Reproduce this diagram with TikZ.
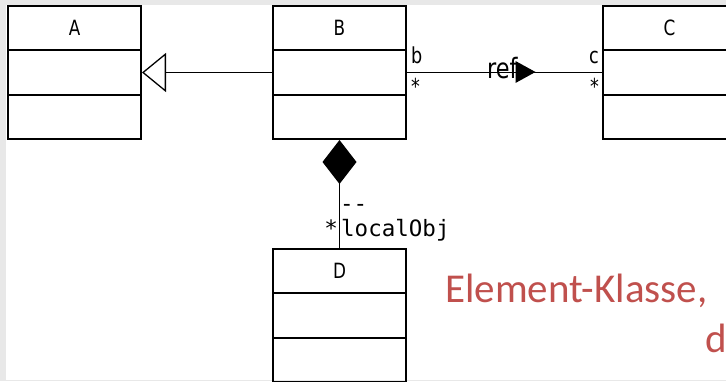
\documentclass[tikz,border=0pt]{standalone}
\usepackage{fontspec}
\setmainfont{DejaVu Sans}[FakeStretch=0.8]
\newfontfamily\monofont{DejaVu Sans Mono}
\newfontfamily\notefont{Carlito}
\usepackage{tikz}
\usetikzlibrary{arrows.meta,calc,positioning,shapes.geometric}
\usepackage{xcolor}
\definecolor{notered}{HTML}{C0504D}

\begin{document}
\begin{tikzpicture}[x=1pt,y=1pt,
    umlclass/.style={draw,line width=2pt,minimum width=133pt,minimum height=133pt,inner sep=0pt},
    classname/.style={font=\fontsize{21}{24}\selectfont,inner sep=0pt},
    rolename/.style={font=\fontsize{22}{24}\selectfont,inner sep=0pt},
    monolabel/.style={font=\monofont\fontsize{22.5}{26}\selectfont,inner sep=0pt},
    connector/.style={line width=1.3pt},
    notetext/.style={font=\notefont\fontsize{41}{50}\selectfont,text=notered,inner sep=0pt}]
      \useasboundingbox (0,0) rectangle (726,381);
      \fill[gray!18] (0,0) rectangle (726,381);
      \fill[white] (6,1) rectangle (726,376);

      \node[umlclass] (A) at (74.5,308.5) {};
      \node[umlclass] (B) at (339.5,308.5) {};
      \node[umlclass] (C) at (669.5,308.5) {};
      \node[umlclass] (D) at (339.5,65.5) {};
      \foreach \c in {A,B,C,D} {
        \draw[line width=1.6pt] ($(\c.north west)!1/3!(\c.south west)$) -- ($(\c.north east)!1/3!(\c.south east)$);
        \draw[line width=1.6pt] ($(\c.north west)!2/3!(\c.south west)$) -- ($(\c.north east)!2/3!(\c.south east)$);
        \node[classname] (\c name) at ($(\c.north)!1/6!(\c.south)$) {\c};
      }

      \draw[connector,-{Triangle[open,length=24pt,width=39pt]}] (B.west) -- (A.east);

      \draw[connector] (B.east) -- (C.west);
      \node[rolename,anchor=base west] (bend) at ([shift={(4,9)}]B.east) {b};
      \node[rolename,anchor=north west] (bmult) at ([shift={(4,-5)}]B.east) {*};
      \node[rolename,anchor=base east] (cend) at ([shift={(-3,9)}]C.west) {c};
      \node[rolename,anchor=north east] (cmult) at ([shift={(-3,-5)}]C.west) {*};
      \node[font=\fontsize{28}{32}\selectfont,inner sep=0pt,anchor=base west] (ref) at (487,302) {ref};
      \node[isosceles triangle,fill=black,inner sep=0pt,minimum height=20pt,minimum width=22pt,
        isosceles triangle stretches] (refdir) at (522,309) {};

      \draw[connector,{Diamond[length=44pt,width=34pt]}-] (B.south) -- (D.north);
      \node[monolabel,anchor=base west] (dash) at (340,170) {--};
      \node[monolabel,anchor=base east] (localmult) at (338,145) {*};
      \node[monolabel,anchor=base west] (local) at (341,145) {localObj};

      \node[notetext,anchor=base west] (note1) at (445,79) {Element-Klasse,};
      \node[notetext,anchor=base west] (note2) at (705,29) {d};
    \end{tikzpicture}
\end{document}
